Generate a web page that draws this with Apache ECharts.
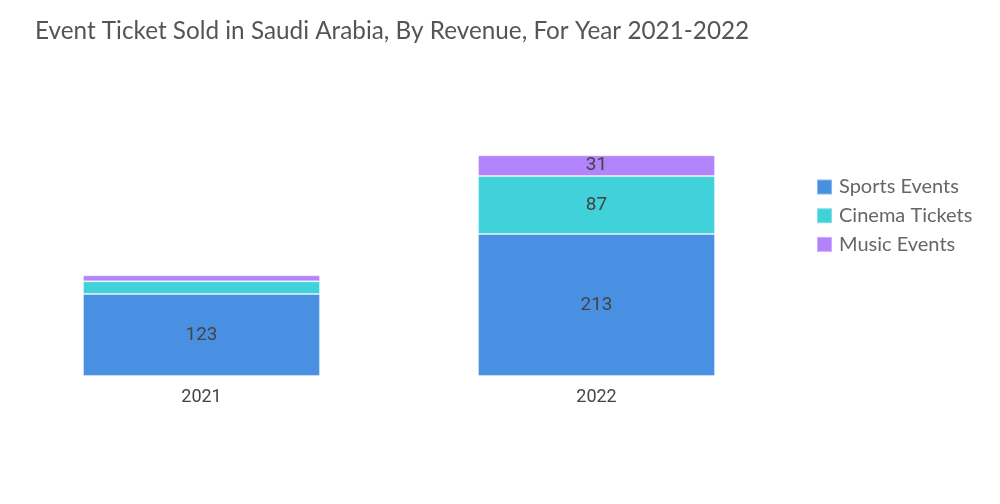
<!DOCTYPE html>
<html><head><meta charset="utf-8">
<script src="https://cdn.jsdelivr.net/npm/echarts@6/dist/echarts.min.js"></script>
<style>html,body{margin:0;padding:0;background:#fff}#c{width:1000px;height:504px}</style>
</head><body><div id="c"></div>
<script>
const categories = ['2021', '2022'];
const sportsEvents = [123, 213];
const cinemaTickets = [19, 87];
const musicEvents = [9, 31];

const chart = echarts.init(document.getElementById('c'));
const lbl = {show: true, position: 'inside', color: '#444', fontSize: 19, fontFamily: 'Roboto',
  formatter: p => (p.value >= 25 ? p.value : '')};
const border = {borderColor: 'rgba(255,255,255,0.35)', borderWidth: 1};
chart.setOption({
  animation: false,
  title: {text: 'Event Ticket Sold in Saudi Arabia, By Revenue, For Year 2021-2022', left: 30, top: 14,
    textStyle: {color: '#555', fontSize: 24.3, fontWeight: 'normal', fontFamily: 'Lato'}},
  legend: {orient: 'vertical', left: 811, top: 172, itemWidth: 15, itemHeight: 15, itemGap: 8.7,
    icon: 'rect', textStyle: {color: '#666', fontSize: 20, fontFamily: 'Lato', padding: [0, 0, 0, 2]},
    data: ['Sports Events', 'Cinema Tickets', 'Music Events']},
  grid: {left: 4, right: 206, top: 109.3, bottom: 128},
  xAxis: {type: 'category', data: categories, axisLine: {show: false}, axisTick: {show: false},
    axisLabel: {color: '#444', fontSize: 18, fontFamily: 'Roboto', margin: 12}},
  yAxis: {type: 'value', min: 0, max: 400, show: false, splitLine: {show: false}},
  series: [
    {name: 'Sports Events', type: 'bar', stack: 's', data: sportsEvents, barWidth: '60%',
      itemStyle: Object.assign({color: '#4a90e2'}, border), label: lbl},
    {name: 'Cinema Tickets', type: 'bar', stack: 's', data: cinemaTickets,
      itemStyle: Object.assign({color: '#40d1db'}, border), label: lbl},
    {name: 'Music Events', type: 'bar', stack: 's', data: musicEvents,
      itemStyle: Object.assign({color: '#b283fb'}, border), label: lbl}
  ]
});
</script></body></html>
